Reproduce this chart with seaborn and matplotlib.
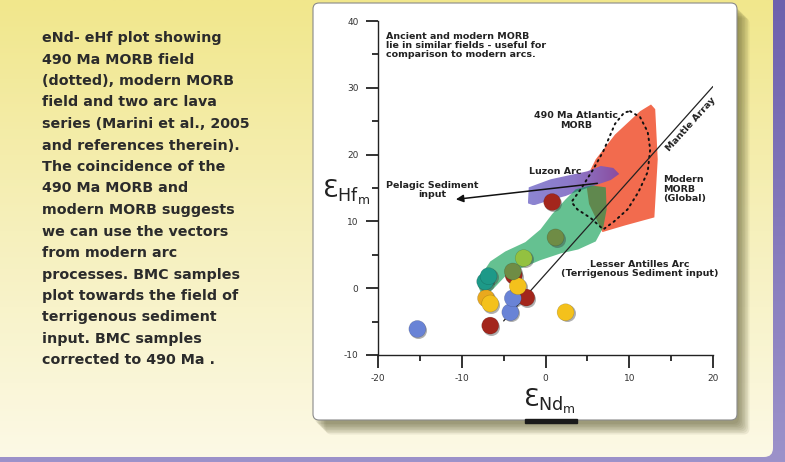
import numpy as np
import pandas as pd
import seaborn as sns
import matplotlib.pyplot as plt
import matplotlib.transforms as mtransforms
from matplotlib.patches import FancyBboxPatch, Rectangle, Polygon
from matplotlib.colors import LinearSegmentedColormap

W, H = 785, 462

# slide caption
caption = ['eNd- eHf plot showing',
           '490 Ma MORB field',
           '(dotted), modern MORB',
           'field and two arc lava',
           'series (Marini et al., 2005',
           'and references therein).',
           'The coincidence of the',
           '490 Ma MORB and',
           'modern MORB suggests',
           'we can use the vectors',
           'from modern arc',
           'processes. BMC samples',
           'plot towards the field of',
           'terrigenous sediment',
           'input. BMC samples',
           'corrected to 490 Ma .']

# BMC samples (eNd, eHf), drawn in this order
nd = [-15.3, -6.6, 2.4, -4.2, -2.3, -3.9, -3.8, -3.3, -7.1, -6.6, -7.2, -6.8, -3.9, -2.6, 1.2, 0.8]
hf = [-6.1, -5.6, -3.6, -3.6, -1.4, -1.5, 1.9, 0.3, -1.5, -2.3, 1.0, 1.8, 2.5, 4.5, 7.6, 12.9]
grp = ['blue', 'red', 'yellow', 'blue', 'red', 'blue', 'red', 'yellow', 'orange', 'yellow',
       'teal', 'teal', 'olive', 'lime', 'olive', 'red']
palette = {'blue': '#6983d6', 'red': '#a3261c', 'yellow': '#f4c11c', 'orange': '#e9a91e',
           'teal': '#1d9988', 'olive': '#6f8c45', 'lime': '#93c140'}

# fields
morb_nd = [12.6, 11.3, 8.3, 6.0, 4.8, 5.2, 6.8, 9.5, 13.0, 13.4, 13.1]
morb_hf = [27.5, 26.5, 23.0, 19.3, 16.3, 12.6, 8.4, 9.4, 10.6, 19.3, 26.8]
old_nd = [10.1, 11.3, 12.2, 12.5, 12.2, 11.1, 9.8, 8.2, 6.9, 5.4, 3.8, 3.1, 4.2, 5.7, 6.9, 8.3, 9.4, 10.1]
old_hf = [26.5, 25.6, 23.4, 20.8, 17.4, 14.4, 11.8, 10.0, 8.8, 10.5, 11.8, 12.9, 14.8, 17.8, 20.5, 24.6, 26.3, 26.5]
luzon_nd = [-2.0, 0.6, 5.0, 6.6, 8.1, 8.8, 7.8, 5.7, 3.8, 2.4, 0.6, -1.4, -2.1]
luzon_hf = [15.1, 16.3, 17.5, 18.3, 18.0, 17.1, 16.2, 15.3, 14.5, 13.8, 13.2, 12.4, 12.7]
antil_nd = [7.2, 5.4, 3.6, 2.4, 0.8, -0.6, -2.4, -4.8, -6.6, -7.6, -8.0, -7.5, -6.3, -4.8, -2.7,
            -0.6, 1.8, 3.9, 6.0, 6.9, 7.3]
antil_hf = [15.1, 15.4, 14.8, 13.3, 11.1, 8.8, 6.9, 5.5, 4.0, 2.1, 0.2, -1.4, -0.2, 1.8, 3.1,
            4.2, 5.2, 5.8, 7.0, 9.1, 11.8]
mantle_nd = [-5.0, 20.0]
mantle_hf = [-4.9, 30.2]
pelagic_nd = [6.2, -10.7]
pelagic_hf = [15.7, 13.3]

sns.set_style('ticks')
plt.rcParams['font.family'] = ['DejaVu Sans']
plt.rcParams['axes.unicode_minus'] = False

fig = plt.figure(figsize=(W / 100, H / 100), dpi=100)

# slide background
bg = fig.add_axes([0, 0, 1, 1])
bg.set_xlim(0, W)
bg.set_ylim(H, 0)
bg.axis('off')
ramp = np.linspace(0, 1, 200).reshape(-1, 1)
purple = LinearSegmentedColormap.from_list('p', ['#6d61ad', '#9c92ca'])
bg.imshow(ramp, cmap=purple, extent=(0, W, H, 0), aspect='auto')
yellow = LinearSegmentedColormap.from_list('y', ['#f1e78c', '#f6f0bc', '#fcf9e6'])
im = bg.imshow(ramp, cmap=yellow, extent=(0, W, H, 0), aspect='auto')
clip = FancyBboxPatch((-30, -30), 773 + 30, 457 + 30, boxstyle='round,pad=0,rounding_size=9',
                      facecolor='none', edgecolor='none')
bg.add_patch(clip)
im.set_clip_path(clip)

# chart panel with shadow
for k in range(8):
    bg.add_patch(FancyBboxPatch((315 + 1.5 * k, 7 + 1.5 * k), 424, 417,
                                boxstyle='round,pad=0,rounding_size=6',
                                facecolor='#4f4d25', edgecolor='none', alpha=0.09))
bg.add_patch(FancyBboxPatch((313, 3), 424, 417, boxstyle='round,pad=0,rounding_size=6',
                            facecolor='white', edgecolor='#8a8a8a', lw=0.8))
bg.add_patch(Rectangle((525, 419), 52, 4, color='#1a1a1a'))

for i, line in enumerate(caption):
    bg.text(42, 38 + 21.5 * i, line, fontsize=10.3, fontweight='bold', color='#2b2b2b',
            va='center', ha='left')

bg.text(346, 192, r'$\mathrm{Ɛ}_{\mathrm{Hf}_{\mathrm{m}}}$', fontsize=18, ha='center', va='center',
        color='#222222')
bg.text(549, 401, r'$\mathrm{Ɛ}_{\mathrm{Nd}_{\mathrm{m}}}$', fontsize=18, ha='center', va='center',
        color='#222222')

# main plot
ax = fig.add_axes([378 / W, 1 - 355 / H, (713 - 378) / W, (355 - 21) / H])
ax.set_facecolor('none')

ax.fill(morb_nd, morb_hf, color='#f26b4e', lw=0, zorder=1)

# Luzon arc: lavender on the left fading to purple on the right
luzon = Polygon(np.column_stack([luzon_nd, luzon_hf]), closed=True, facecolor='none', edgecolor='none')
ax.add_patch(luzon)
lz_cmap = LinearSegmentedColormap.from_list('lz', ['#8c86d2', '#8d78c8', '#8a4c9f'])
lz = ax.imshow(np.linspace(0, 1, 100).reshape(1, -1), cmap=lz_cmap, aspect='auto', zorder=2,
               extent=(min(luzon_nd), max(luzon_nd), min(luzon_hf), max(luzon_hf)))
lz.set_clip_path(luzon)

ax.fill(antil_nd, antil_hf, color='#069b4e', alpha=0.62, lw=0, zorder=3)
ax.plot(old_nd, old_hf, color='#111111', lw=1.4, ls=(0, (0.8, 2.2)), dash_capstyle='round', zorder=4)
ax.plot(mantle_nd, mantle_hf, color='#222222', lw=0.9, zorder=4)
ax.annotate('', xy=(pelagic_nd[1], pelagic_hf[1]), xytext=(pelagic_nd[0], pelagic_hf[0]),
            arrowprops=dict(arrowstyle='-|>', color='#111111', lw=1.1, mutation_scale=11,
                            shrinkA=0, shrinkB=0), zorder=4)

df = pd.DataFrame({'nd': nd, 'hf': hf, 'grp': grp})
shadow = mtransforms.offset_copy(ax.transData, fig=fig, x=0.8, y=-0.8, units='points')
ax.scatter(df['nd'], df['hf'], s=150, color='#3a3a3a', alpha=0.4, lw=0, transform=shadow, zorder=5)
sns.scatterplot(data=df, x='nd', y='hf', hue='grp', palette=palette, s=150, edgecolor='#00000033',
                linewidth=0.4, legend=False, ax=ax, zorder=6)

lab = dict(fontsize=6.8, fontweight='bold', color='#222222')
ax.text(-19.1, 38.3, 'Ancient and modern MORB\nlie in similar fields - useful for\ncomparison to modern arcs.',
        va='top', ha='left', linespacing=1.0, **lab)
ax.text(3.6, 25.1, '490 Ma Atlantic\nMORB', ha='center', va='center', linespacing=1.05, **lab)
ax.text(1.2, 17.4, 'Luzon Arc', ha='center', va='center', **lab)
ax.text(14.1, 14.8, 'Modern\nMORB\n(Global)', ha='left', va='center', linespacing=1.05, **lab)
ax.text(-13.5, 14.7, 'Pelagic Sediment\ninput', ha='center', va='center', linespacing=1.05, **lab)
ax.text(11.3, 2.85, 'Lesser Antilles Arc\n(Terrigenous Sediment input)', ha='center', va='center',
        linespacing=1.05, **lab)
ax.text(17.4, 24.6, 'Mantle Array', rotation=48, ha='center', va='center', **lab)

ax.set_xlim(-20, 20)
ax.set_ylim(-10, 40)
ax.set_xticks(range(-20, 21, 10))
ax.set_xticks(range(-15, 20, 10), minor=True)
ax.set_yticks(range(-10, 41, 10))
ax.set_yticks(range(-5, 40, 10), minor=True)
ax.set_xlabel('')
ax.set_ylabel('')
sns.despine(ax=ax)
for s in ['left', 'bottom']:
    ax.spines[s].set_linewidth(1.0)
    ax.spines[s].set_color('#222222')
ax.tick_params(which='major', length=9, width=1.3, color='#222222', labelsize=6.5,
               labelcolor='#333333', pad=5)
ax.tick_params(which='minor', length=4, width=1.3, color='#222222')

fig.savefig('out.png', dpi=100)
